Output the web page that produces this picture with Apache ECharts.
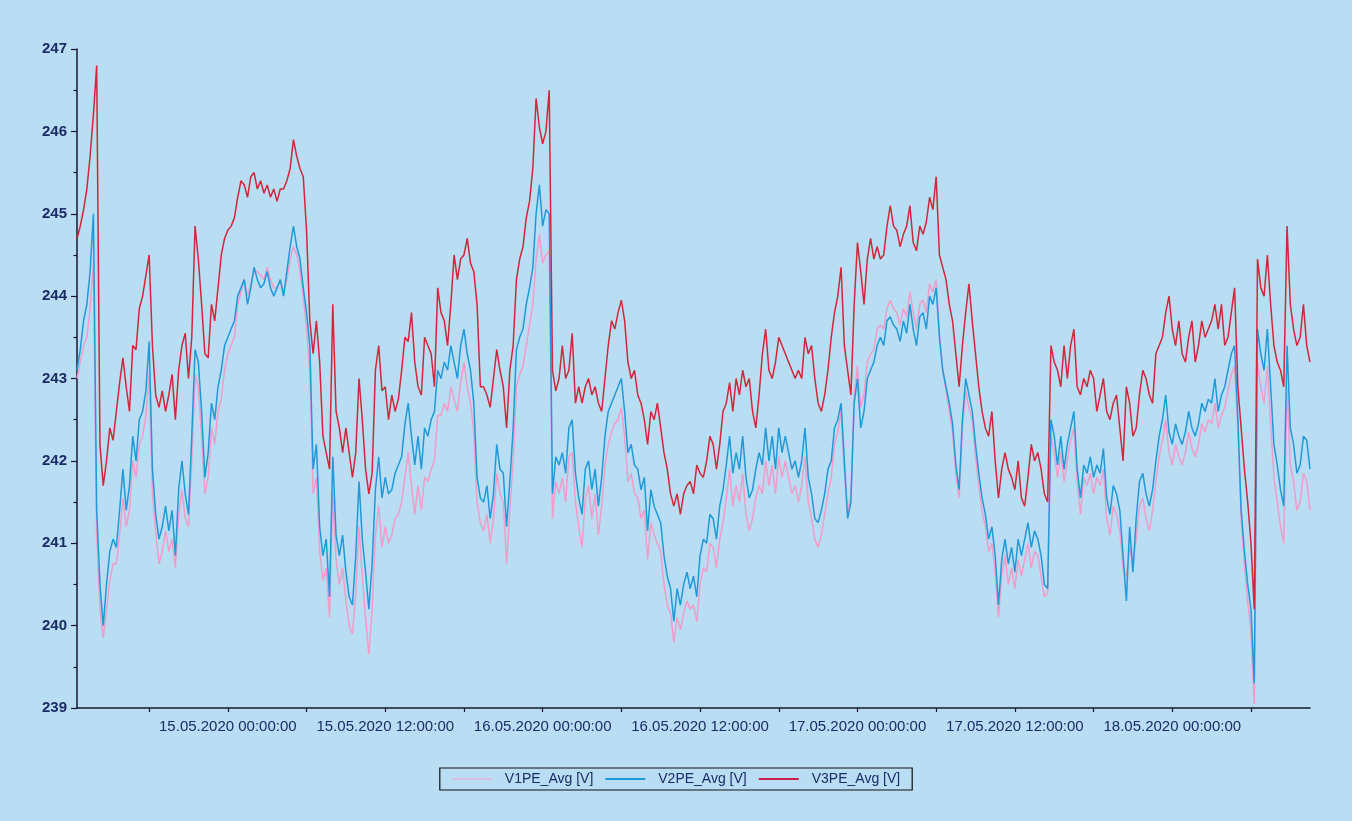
<!DOCTYPE html>
<html><head><meta charset="utf-8">
<script src="https://cdn.jsdelivr.net/npm/echarts@6/dist/echarts.min.js"></script>
<style>html,body{margin:0;padding:0;background:#b9ddf3;}#c{width:1352px;height:821px;}</style>
</head><body><div id="c"></div>
<script>
const seriesNames = ['V1PE_Avg [V]', 'V2PE_Avg [V]', 'V3PE_Avg [V]'];
const seriesColors = ['#f29cc9', '#1f9ad8', '#d3263a'];
const startHour = -11.5;   // hours relative to 15.05.2020 00:00
const stepHours = 0.25;
const tickHours = [-6, 0, 6, 12, 18, 24, 30, 36, 42, 48, 54, 60, 66, 72, 78];
const labelHours = [0, 12, 24, 36, 48, 60, 72];
const tickLabels = ['15.05.2020 00:00:00', '15.05.2020 12:00:00', '16.05.2020 00:00:00', '16.05.2020 12:00:00', '17.05.2020 00:00:00', '17.05.2020 12:00:00', '18.05.2020 00:00:00'];

const v1 = [
243.0,243.2,243.4,243.5,243.85,244.4,241.1,240.2,239.85,240.2,
240.55,240.75,240.75,241.1,241.55,241.2,241.4,242.0,241.8,242.2,
242.3,242.55,243.05,241.6,241.15,240.75,240.9,241.15,240.9,241.05,
240.7,241.35,241.65,241.3,241.2,242.0,243.05,242.9,242.3,241.6,
241.8,242.4,242.2,242.6,242.75,243.1,243.3,243.4,243.5,243.9,
244.05,244.2,244.0,244.15,244.3,244.3,244.25,244.2,244.35,244.2,
244.1,244.1,244.2,
244.05,244.2,244.45,244.6,244.5,244.3,244.0,243.6,243.1,241.6,
241.8,240.9,240.55,240.7,240.1,241.6,240.8,240.5,240.7,240.3,
240.0,239.9,240.4,241.2,240.6,240.1,239.65,240.2,241.1,241.45,
240.95,241.2,241.0,241.1,241.3,241.35,241.5,241.8,242.1,241.7,
241.35,241.7,241.4,241.8,241.75,241.9,242.0,242.55,242.55,242.7,
242.6,242.9,242.75,242.6,242.95,243.2,242.9,242.7,242.35,241.5,
241.25,241.15,
241.35,241.0,241.3,241.85,241.6,241.5,240.75,241.4,242.0,242.9,
243.05,243.15,243.4,243.65,243.9,244.45,244.75,244.4,244.5,244.55,
241.3,241.75,241.6,241.8,241.5,242.05,242.1,241.5,241.2,240.95,
241.55,241.7,241.3,241.6,241.1,241.45,241.95,242.2,242.35,242.45,
242.5,242.65,242.3,241.75,241.85,241.6,241.55,241.3,241.4,240.8,
241.25,241.1,241.0,240.9,240.5,240.25,240.15,239.8,240.1,239.95,
240.15,240.3,240.2,
240.25,240.05,240.5,240.7,240.65,241.0,240.95,240.7,241.05,241.25,
241.55,241.9,241.45,241.7,241.5,241.85,241.35,241.15,241.3,241.55,
241.7,241.6,242.0,241.7,241.95,241.6,242.05,241.8,242.0,241.8,
241.6,241.7,241.5,241.7,242.05,241.5,241.3,241.05,240.95,241.1,
241.35,241.6,241.8,242.2,242.35,242.6,241.9,241.35,241.6,242.8,
243.15,242.65,242.8,243.2,243.3,243.35,243.6,243.65,243.6,243.85,
243.95,243.85,243.8,
243.65,243.85,243.75,244.05,243.8,243.6,243.9,243.95,243.8,244.15,
244.05,244.2,243.55,243.1,242.85,242.6,242.35,241.85,241.55,242.4,
242.85,242.65,242.5,242.05,241.7,241.4,241.2,240.9,241.0,240.65,
240.1,240.6,240.85,240.5,240.7,240.45,240.8,240.6,240.8,241.0,
240.7,240.9,240.85,240.6,240.35,240.4,242.3,242.1,241.8,242.1,
241.75,242.0,242.25,242.4,241.75,241.35,241.8,241.7,241.85,241.6,
241.8,241.7,
241.9,241.3,241.1,241.45,241.35,241.15,240.7,240.6,240.95,240.75,
241.05,241.45,241.55,241.3,241.15,241.4,241.75,242.05,242.25,242.5,
242.1,241.95,242.2,242.05,241.95,242.1,242.35,242.15,242.05,242.2,
242.45,242.35,242.5,242.45,242.7,242.4,242.55,242.65,242.85,243.05,
243.15,242.4,241.3,240.75,240.3,239.9,239.05,243.2,242.9,242.7,
243.15,242.45,241.8,241.5,241.2,241.0,242.9,241.95,241.75,241.4,
241.5,241.85,241.75,241.4
];

const v2 = [
243.1,243.35,243.7,243.9,244.3,245.0,241.4,240.5,240.0,240.5,
240.9,241.05,240.95,241.4,241.9,241.4,241.7,242.3,242.0,242.5,
242.6,242.85,243.45,241.9,241.35,241.05,241.2,241.45,241.15,241.4,
240.85,241.65,242.0,241.6,241.35,242.3,243.35,243.2,242.6,241.8,
242.1,242.7,242.5,242.9,243.1,243.4,243.5,243.6,243.7,244.0,
244.1,244.2,243.9,244.1,244.35,244.2,244.1,244.15,244.3,244.1,
244.0,244.1,244.2,
244.0,244.3,244.6,244.85,244.6,244.45,244.1,243.8,243.4,241.9,
242.2,241.2,240.85,241.05,240.35,242.05,241.1,240.85,241.1,240.65,
240.35,240.25,240.85,241.75,241.05,240.65,240.2,240.75,241.65,242.05,
241.55,241.8,241.6,241.65,241.85,241.95,242.05,242.45,242.7,242.3,
241.95,242.3,241.9,242.4,242.3,242.5,242.6,243.1,243.0,243.2,
243.1,243.4,243.2,243.0,243.4,243.6,243.3,243.1,242.7,241.8,
241.55,241.5,
241.7,241.3,241.6,242.2,241.9,241.85,241.2,241.75,242.4,243.35,
243.5,243.6,243.9,244.1,244.35,245.0,245.35,244.85,245.05,245.0,
241.6,242.05,241.95,242.1,241.85,242.4,242.5,241.85,241.55,241.35,
241.9,242.0,241.65,241.9,241.45,241.8,242.3,242.6,242.7,242.8,
242.9,243.0,242.6,242.1,242.2,241.95,241.9,241.65,241.8,241.15,
241.65,241.45,241.35,241.25,240.85,240.6,240.45,240.05,240.45,240.25,
240.5,240.65,240.45,
240.6,240.35,240.85,241.05,241.0,241.35,241.3,241.05,241.45,241.65,
241.95,242.3,241.85,242.1,241.9,242.3,241.8,241.55,241.65,241.9,
242.1,241.95,242.4,242.0,242.3,241.9,242.4,242.1,242.3,242.1,
241.9,242.0,241.8,242.0,242.4,241.8,241.6,241.3,241.25,241.4,
241.6,241.9,242.0,242.4,242.5,242.7,242.0,241.3,241.5,242.7,
243.0,242.4,242.6,243.0,243.1,243.2,243.4,243.5,243.4,243.7,
243.75,243.65,243.6,
243.45,243.7,243.55,243.9,243.6,243.4,243.75,243.8,243.6,244.0,
243.9,244.1,243.5,243.1,242.9,242.7,242.45,241.95,241.65,242.5,
243.0,242.8,242.6,242.2,241.85,241.55,241.35,241.05,241.2,240.85,
240.25,240.8,241.05,240.75,240.95,240.65,241.05,240.85,241.05,241.25,
240.95,241.15,241.05,240.85,240.5,240.45,242.5,242.3,241.95,242.3,
241.9,242.2,242.4,242.6,241.9,241.55,241.95,241.85,242.05,241.8,
241.95,241.85,
242.15,241.55,241.35,241.7,241.6,241.4,240.85,240.3,241.2,240.65,
241.3,241.75,241.85,241.6,241.45,241.65,242.0,242.3,242.5,242.8,
242.35,242.2,242.45,242.3,242.2,242.35,242.6,242.4,242.3,242.45,
242.7,242.6,242.75,242.7,243.0,242.6,242.8,242.9,243.1,243.3,
243.4,242.5,241.4,240.9,240.5,240.2,239.3,243.6,243.3,243.1,
243.6,242.9,242.2,241.95,241.65,241.45,243.4,242.4,242.2,241.85,
241.95,242.3,242.25,241.9
];

const v3 = [
244.7,244.85,245.05,245.3,245.7,246.2,246.8,242.2,241.7,242.0,
242.4,242.25,242.6,242.95,243.25,242.9,242.6,243.4,243.35,243.85,
244.0,244.25,244.5,243.4,242.8,242.65,242.85,242.6,242.8,243.05,
242.5,243.1,243.4,243.55,243.0,243.5,244.85,244.45,243.9,243.3,
243.25,243.9,243.7,244.1,244.5,244.7,244.8,244.85,244.95,245.2,
245.4,245.35,245.2,245.45,245.5,245.3,245.4,245.25,245.35,245.2,
245.3,245.15,245.3,
245.3,245.4,245.55,245.9,245.7,245.55,245.45,244.8,243.7,243.3,
243.7,243.2,242.3,242.1,241.9,243.9,242.6,242.4,242.1,242.4,
242.1,241.8,242.1,243.0,242.5,241.9,241.6,241.85,243.1,243.4,
242.85,242.9,242.5,242.8,242.6,242.75,243.1,243.5,243.45,243.8,
243.2,242.9,242.8,243.5,243.4,243.3,242.9,244.1,243.8,243.7,
243.4,243.9,244.5,244.2,244.45,244.5,244.7,244.4,244.3,243.9,
242.9,242.9,
242.8,242.65,243.0,243.35,243.1,242.9,242.4,243.1,243.4,244.2,
244.45,244.6,244.95,245.15,245.55,246.4,246.05,245.85,246.0,246.5,
243.1,242.85,243.0,243.4,243.0,243.1,243.55,242.7,242.9,242.7,
242.9,243.0,242.8,242.9,242.7,242.6,243.0,243.4,243.7,243.6,
243.8,243.95,243.7,243.2,243.0,243.1,242.8,242.7,242.5,242.2,
242.6,242.5,242.7,242.4,242.1,241.9,241.6,241.45,241.6,241.35,
241.6,241.7,241.75,
241.6,241.95,241.85,241.8,242.0,242.3,242.2,241.9,242.2,242.6,
242.7,242.95,242.6,243.0,242.8,243.1,242.9,243.0,242.6,242.4,
242.8,243.3,243.6,243.1,243.0,243.2,243.5,243.4,243.3,243.2,
243.1,243.0,243.1,243.0,243.5,243.3,243.4,243.0,242.7,242.6,
242.8,243.1,243.5,243.8,244.0,244.35,243.4,243.1,242.8,243.9,
244.65,244.3,243.9,244.45,244.7,244.45,244.6,244.45,244.5,244.85,
245.1,244.85,244.8,
244.6,244.75,244.85,245.1,244.65,244.55,244.85,244.75,244.9,245.2,
245.05,245.45,244.5,244.35,244.2,243.9,243.7,243.3,242.9,243.4,
243.8,244.15,243.7,243.3,242.9,242.6,242.4,242.3,242.6,242.0,
241.55,241.9,242.1,241.9,241.8,241.65,242.0,241.55,241.45,241.8,
242.2,242.0,242.1,241.9,241.6,241.5,243.4,243.2,243.1,242.9,
243.4,243.0,243.4,243.6,242.9,242.8,243.0,242.9,243.1,243.0,
242.6,242.8,
243.0,242.6,242.5,242.7,242.8,242.4,242.0,242.9,242.7,242.3,
242.4,242.8,243.1,243.0,242.8,242.7,243.3,243.4,243.5,243.8,
244.0,243.6,243.4,243.7,243.3,243.2,243.5,243.7,243.2,243.4,
243.7,243.5,243.6,243.7,243.9,243.6,243.9,243.4,243.5,243.8,
244.1,242.9,242.4,241.9,241.5,241.0,240.2,244.45,244.1,244.0,
244.5,243.9,243.4,243.2,243.1,242.9,244.85,243.9,243.6,243.4,
243.5,243.9,243.4,243.2
];

const values = [v1, v2, v3];
const legendColors = ['#dcbfe4', '#1f9ad8', '#c8204a'];
const axisColor = '#16182c';
const textColor = '#1b2b66';

const chart = echarts.init(document.getElementById('c'), null, {renderer: 'canvas'});
chart.setOption({
  animation: false,
  backgroundColor: '#b9ddf3',
  grid: {left: 77, top: 49, width: 1233, height: 659, containLabel: false},
  xAxis: {
    type: 'value', min: startHour, max: 82.5,
    axisLine: {show: true, onZero: false, lineStyle: {color: axisColor, width: 1.5}},
    axisTick: {show: true, customValues: tickHours, length: 4, lineStyle: {color: axisColor, width: 1.2}},
    axisLabel: {customValues: labelHours, formatter: v => tickLabels[labelHours.indexOf(v)],
      fontFamily: 'Liberation Sans, Arial, sans-serif', fontSize: 15, color: textColor, margin: 11},
    splitLine: {show: false}
  },
  yAxis: {
    type: 'value', min: 239, max: 247, interval: 1,
    axisLine: {show: true, onZero: false, lineStyle: {color: axisColor, width: 1.5}},
    axisTick: {show: true, length: 6, lineStyle: {color: axisColor, width: 1.2}},
    minorTick: {show: true, splitNumber: 2, length: 3.5, lineStyle: {color: axisColor, width: 1.2}},
    axisLabel: {fontFamily: 'Liberation Sans, Arial, sans-serif', fontSize: 15, fontWeight: 'bold', color: textColor, margin: 10},
    splitLine: {show: false}, minorSplitLine: {show: false}
  },
  legend: {
    top: 768, left: 'center',
    icon: 'rect',
    data: seriesNames.map((n, k) => ({name: n, itemStyle: {color: legendColors[k]}})),
    itemWidth: 40, itemHeight: 2, itemGap: 12,
    borderColor: '#111', borderWidth: 1.2, borderRadius: 0, padding: [4, 12],
    textStyle: {fontFamily: 'Liberation Sans, Arial, sans-serif', fontSize: 14, color: textColor, padding: [0, 0, 0, 8]}
  },
  series: values.map((arr, k) => ({
    name: seriesNames[k], type: 'line', symbol: 'none', showSymbol: false,
    data: arr.map((v, i) => [startHour + i * stepHours, v]),
    lineStyle: {width: 1.5, color: seriesColors[k]},
    itemStyle: {color: seriesColors[k]},
    z: 2 + k
  }))
});
</script></body></html>
